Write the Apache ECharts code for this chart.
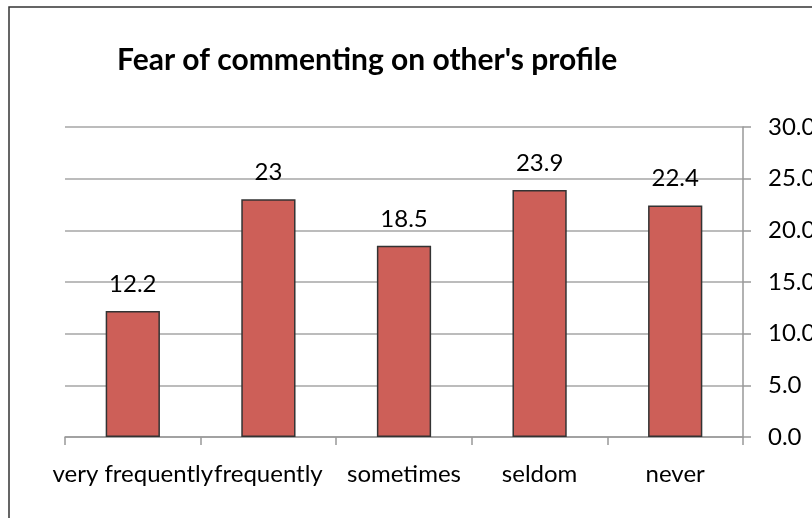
<!DOCTYPE html>
<html><head><meta charset="utf-8">
<script src="https://cdn.jsdelivr.net/npm/echarts@6/dist/echarts.min.js"></script>
<style>html,body{margin:0;padding:0;background:#fff;}#c{width:812px;height:518px;}</style>
</head><body><div id="c"></div>
<script>
var titleText = "Fear of commenting on other's profile";
var categories = ["very frequently", "frequently", "sometimes", "seldom", "never"];
var values = [12.2, 23, 18.5, 23.9, 22.4];
var yMin = 0, yMax = 30, yStep = 5;

var chart = echarts.init(document.getElementById('c'), null, {renderer: 'canvas'});
var font = 'Lato, "Open Sans", sans-serif';
chart.setOption({
  animation: false,
  backgroundColor: '#fff',
  graphic: [{
    type: 'rect', shape: {x: 9, y: 7, width: 900, height: 600},
    style: {fill: 'none', stroke: '#333', lineWidth: 1.5}, silent: true
  }],
  title: {
    text: titleText, left: 112, top: 40,
    textStyle: {fontFamily: font, fontWeight: 'bold', fontSize: 30, color: '#000'}
  },
  grid: {left: 65, right: 69, top: 127, bottom: 81, containLabel: false, outerBoundsMode: 'none'},
  xAxis: {
    type: 'category', data: categories, boundaryGap: true,
    axisLine: {lineStyle: {color: '#999', width: 1.5}},
    axisTick: {show: true, length: 8, lineStyle: {color: '#999', width: 1.5}},
    axisLabel: {fontFamily: font, fontSize: 24, color: '#000', margin: 25, interval: 0}
  },
  yAxis: {
    type: 'value', position: 'right', min: yMin, max: yMax, interval: yStep,
    axisLine: {show: true, lineStyle: {color: '#999', width: 1.5}},
    axisTick: {show: true, length: 8, lineStyle: {color: '#999', width: 1.5}},
    splitLine: {lineStyle: {color: '#a6a6a6', width: 1.5}},
    axisLabel: {fontFamily: font, fontSize: 24, color: '#000', margin: 25,
      formatter: function (v) { return v.toFixed(1); }}
  },
  series: [{
    type: 'bar', data: values, barWidth: '40%',
    itemStyle: {color: '#CD5F58', borderColor: '#333', borderWidth: 1.5},
    label: {show: true, position: 'top', distance: 15, fontFamily: font, fontSize: 24, color: '#000'}
  }]
});
</script></body></html>
